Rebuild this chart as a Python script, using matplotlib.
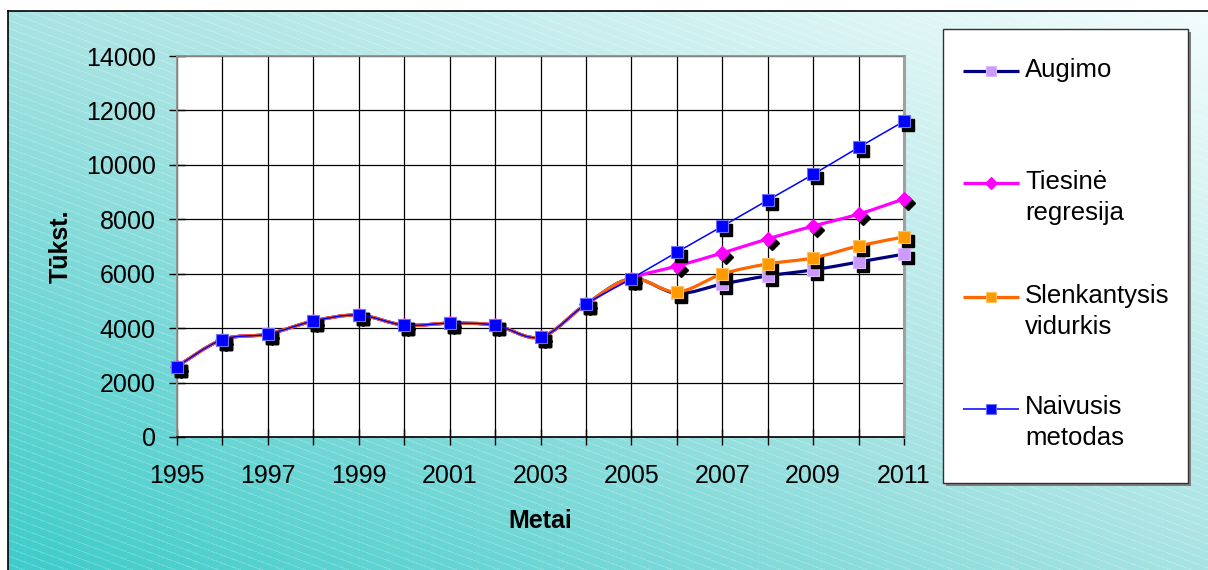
import numpy as np
import matplotlib
matplotlib.use("Agg")
import matplotlib.pyplot as plt
from matplotlib.path import Path
from matplotlib.patches import PathPatch, Rectangle
from matplotlib.transforms import offset_copy

plt.rcParams['font.family'] = ['Liberation Sans', 'DejaVu Sans']

# duomenys
years = list(range(1995, 2012))
history = [2590, 3580, 3780, 4260, 4480, 4110, 4180, 4110, 3670, 4880, 5820]
augimo = history + [5280, 5620, 5920, 6140, 6430, 6720]
tiesine = history + [6280, 6760, 7280, 7750, 8190, 8750]
slenkantysis = history + [5330, 5990, 6360, 6580, 7020, 7350]
naivusis = history + [6790, 7740, 8700, 9650, 10640, 11600]

labels = [["Augimo"], ["Tiesinė", "regresija"], ["Slenkantysis", "vidurkis"], ["Naivusis", "metodas"]]
series = [augimo, tiesine, slenkantysis, naivusis]
styles = [
    dict(color='#000080', lw=2.3, marker='s', ms=9, mfc='#CC99FF', mec='#DDBBFF'),
    dict(color='#FF00FF', lw=2.3, marker='D', ms=7.5, mfc='#FF00FF', mec='#FF00FF'),
    dict(color='#FF6600', lw=2.3, marker='s', ms=9, mfc='#FF9900', mec='#FFC060'),
    dict(color='#0000FF', lw=1.1, marker='s', ms=9, mfc='#0000FF', mec='#7070FF'),
]


def smooth_path(x, y):
    # glotni kreive kaip Excel'yje (Catmull-Rom -> Bezier)
    pts = np.column_stack([x, y]).astype(float)
    n = len(pts)
    verts = [pts[0]]
    codes = [Path.MOVETO]
    for i in range(n - 1):
        p0 = pts[i - 1] if i > 0 else pts[i]
        p1, p2 = pts[i], pts[i + 1]
        p3 = pts[i + 2] if i + 2 < n else pts[i + 1]
        verts += [p1 + (p2 - p0) / 6, p2 - (p3 - p1) / 6, p2]
        codes += [Path.CURVE4] * 3
    return Path(verts, codes)


W, H = 1208, 570
fig = plt.figure(figsize=(W / 100, H / 100), dpi=100)
fig.patch.set_facecolor('white')

# fonas
bg = fig.add_axes([0, 0, 1, 1], zorder=0)
bg.set_xlim(0, W)
bg.set_ylim(H, 0)
bg.axis('off')
gh, gw = H - 11, W - 8
yy, xx = np.mgrid[0:gh, 0:gw]
t = (xx / gw + (1 - yy / gh)) / 2
stops = [0, 0.5, 1]
img = np.dstack([
    np.interp(t, stops, [0.24, 0.66, 0.95]),
    np.interp(t, stops, [0.80, 0.89, 0.99]),
    np.interp(t, stops, [0.79, 0.89, 0.99]),
])
stripe = ((yy - 0.37 * xx) % 8) < 1.2
img[stripe] = img[stripe] * 0.8 + 0.2
bg.imshow(img, extent=(8, W, H, 11), aspect='auto', interpolation='nearest')
bg.plot([8, 8], [H, 11], color='black', lw=1.2)
bg.plot([8, W], [11, 11], color='black', lw=1.2)

# legenda
bg.add_patch(Rectangle((946, 32), 245, 454, facecolor='#808080', edgecolor='none'))
bg.add_patch(Rectangle((943, 29), 245, 454, facecolor='white', edgecolor='#303030', lw=1))
handle_y = [71, 183, 297, 409]
base_y = [77, 189, 303, 414]
for st, lab, hy, by in zip(styles, labels, handle_y, base_y):
    bg.plot([963, 1019], [hy, hy], color=st['color'], lw=st['lw'], solid_capstyle='butt')
    bg.plot([991], [hy], ls='none', marker=st['marker'], ms=st['ms'] * 0.85,
            mfc=st['mfc'], mec=st['mec'], mew=0.8)
    for k, line in enumerate(lab):
        bg.text(1025, by + 31 * k, line, fontsize=18.5, va='baseline', ha='left')

# grafikas
ax = fig.add_axes([177 / W, 1 - 437 / H, (904 - 177) / W, (437 - 56) / H], zorder=2)
ax.set_facecolor('white')
ax.set_xlim(1995, 2011)
ax.set_ylim(0, 14000)
ax.set_axisbelow(True)
ax.grid(True, color='black', lw=0.9)
ax.set_xticks(years, labels=[str(y) if (y - 1995) % 2 == 0 else '' for y in years])
ax.set_yticks(range(0, 14001, 2000))
ax.tick_params(axis='both', direction='inout', length=11.5, width=1, labelsize=18, colors='black')
ax.tick_params(axis='y', pad=9.5)
ax.tick_params(axis='x', pad=14)
for side in ['top', 'left']:
    ax.spines[side].set_color('#909090')
    ax.spines[side].set_linewidth(1.3)
ax.spines['right'].set_color('#a0a0a0')
ax.spines['right'].set_linewidth(2.2)
ax.spines['bottom'].set_color('black')
ax.spines['bottom'].set_linewidth(1.2)

shadow_tr = offset_copy(ax.transData, fig=fig, x=4, y=-4, units='dots')
for i, (vals, st) in enumerate(zip(series, styles)):
    z = 3 + i
    ax.plot(years, vals, ls='none', marker=st['marker'], ms=st['ms'], color='black',
            transform=shadow_tr, zorder=z, clip_on=False)
    ax.add_patch(PathPatch(smooth_path(years, vals), fill=False, edgecolor=st['color'],
                           lw=st['lw'], zorder=z + 0.1, clip_on=False))
    ax.plot(years, vals, ls='none', marker=st['marker'], ms=st['ms'], mfc=st['mfc'],
            mec=st['mec'], mew=0.8, zorder=z + 0.2, clip_on=False)

ax.set_xlabel('Metai', fontsize=18, fontweight='bold')
ax.xaxis.set_label_coords(0.5, -0.19)
ax.set_ylabel('Tūkst.', fontsize=18, fontweight='bold')
ax.yaxis.set_label_coords(-0.143, 0.5)

fig.savefig('out.png', dpi=100)
